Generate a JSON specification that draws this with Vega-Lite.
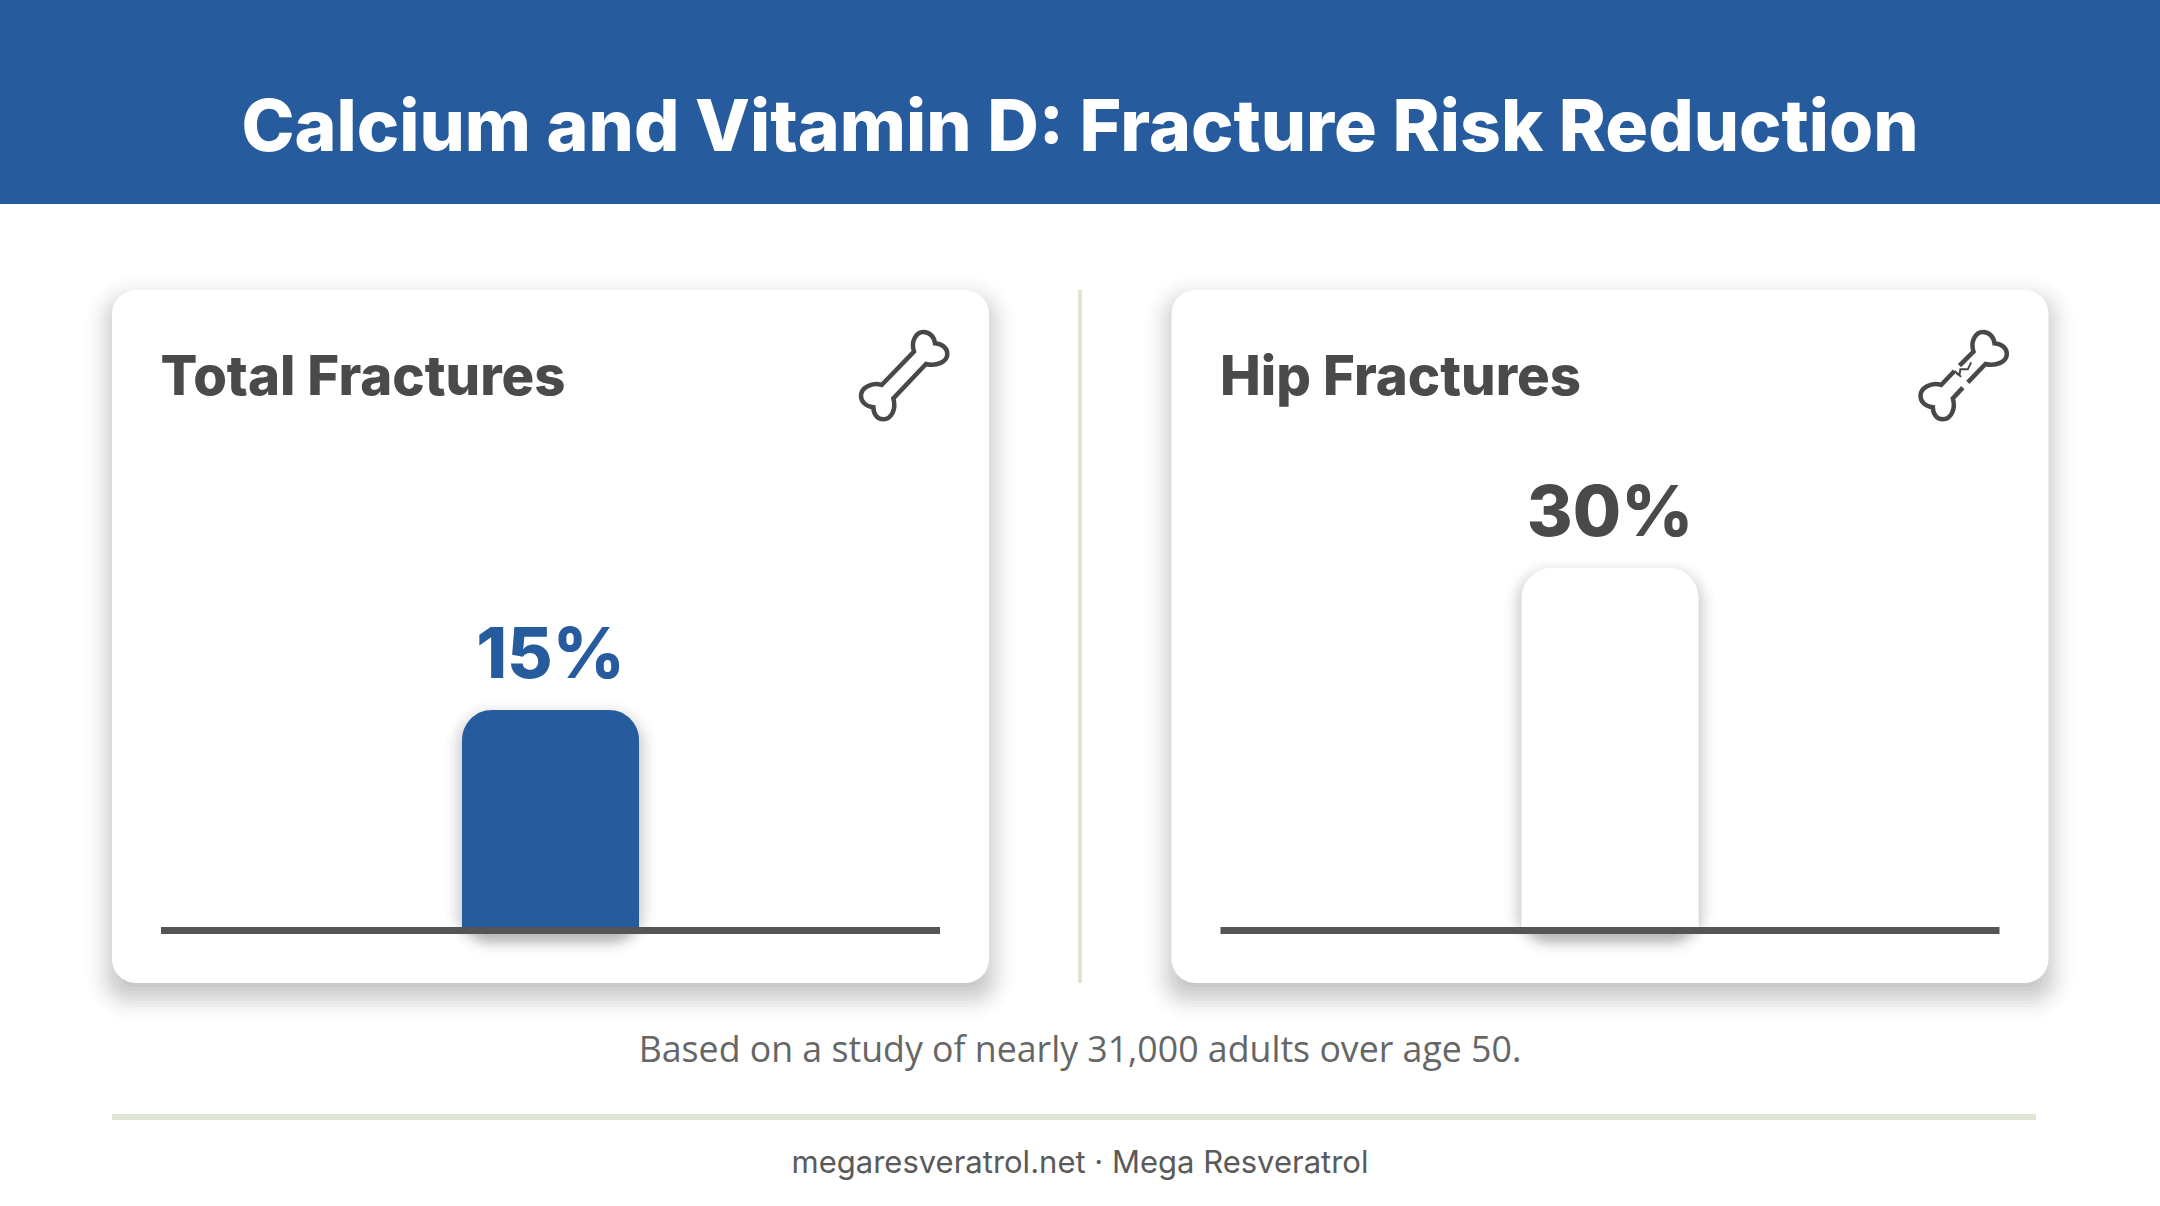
{
"$schema":"https://vega.github.io/schema/vega-lite/v6.json",
"width":2160,"height":1206,"padding":0,
"autosize":{"type":"fit","contains":"padding"},
"background":"#FFFFFF",
"config":{"view":{"stroke":null}},
"datasets":{"panels":[{"panel":"Total Fractures","value":15,"label":"15%"},{"panel":"Hip Fractures","value":30,"label":"30%"}]},
"data":{"name":"panels"},
"encoding":{
"x":{"field":"panel","type":"nominal","axis":null,"sort":null,"scale":{"type":"band","domain":["Total Fractures","Hip Fractures"],"range":[20.75,2139.75],"paddingInner":0,"paddingOuter":0}}
},
"resolve":{"scale":{"color":"independent"}},
"layer":[
{"mark":{"type":"bar","width":853,"cornerRadius":12,"color":"#000","opacity":0.026,"yOffset":24,"y2Offset":0},"encoding":{"y":{"datum":59.37,"type":"quantitative","axis":null,"scale":{"domain":[-37.39,90],"range":[1206,0],"nice":false,"zero":false}},"y2":{"datum":-13.83}}},
{"mark":{"type":"bar","width":861,"cornerRadius":14,"color":"#000","opacity":0.026,"yOffset":20,"y2Offset":4},"encoding":{"y":{"datum":59.37,"type":"quantitative"},"y2":{"datum":-13.83}}},
{"mark":{"type":"bar","width":869,"cornerRadius":17,"color":"#000","opacity":0.026,"yOffset":16,"y2Offset":8},"encoding":{"y":{"datum":59.37,"type":"quantitative"},"y2":{"datum":-13.83}}},
{"mark":{"type":"bar","width":877,"cornerRadius":20,"color":"#000","opacity":0.024,"yOffset":12,"y2Offset":12},"encoding":{"y":{"datum":59.37,"type":"quantitative"},"y2":{"datum":-13.83}}},
{"mark":{"type":"bar","width":883,"cornerRadius":23,"color":"#000","opacity":0.024,"yOffset":9,"y2Offset":15},"encoding":{"y":{"datum":59.37,"type":"quantitative"},"y2":{"datum":-13.83}}},
{"mark":{"type":"bar","width":889,"cornerRadius":26,"color":"#000","opacity":0.022,"yOffset":6,"y2Offset":18},"encoding":{"y":{"datum":59.37,"type":"quantitative"},"y2":{"datum":-13.83}}},
{"mark":{"type":"bar","width":895,"cornerRadius":29,"color":"#000","opacity":0.02,"yOffset":3,"y2Offset":21},"encoding":{"y":{"datum":59.37,"type":"quantitative"},"y2":{"datum":-13.83}}},
{"mark":{"type":"bar","width":901,"cornerRadius":32,"color":"#000","opacity":0.018,"yOffset":0,"y2Offset":24},"encoding":{"y":{"datum":59.37,"type":"quantitative"},"y2":{"datum":-13.83}}},
{"mark":{"type":"bar","width":907,"cornerRadius":35,"color":"#000","opacity":0.015,"yOffset":-3,"y2Offset":27},"encoding":{"y":{"datum":59.37,"type":"quantitative"},"y2":{"datum":-13.83}}},
{"mark":{"type":"bar","width":913,"cornerRadius":38,"color":"#000","opacity":0.012,"yOffset":-6,"y2Offset":30},"encoding":{"y":{"datum":59.37,"type":"quantitative"},"y2":{"datum":-13.83}}},
{"mark":{"type":"bar","width":921,"cornerRadius":42,"color":"#000","opacity":0.01,"yOffset":-10,"y2Offset":34},"encoding":{"y":{"datum":59.37,"type":"quantitative"},"y2":{"datum":-13.83}}},
{"mark":{"type":"bar","width":929,"cornerRadius":46,"color":"#000","opacity":0.008,"yOffset":-14,"y2Offset":38},"encoding":{"y":{"datum":59.37,"type":"quantitative"},"y2":{"datum":-13.83}}},
{"mark":{"type":"bar","width":877,"cornerRadius":24,"color":"#FFFFFF"},"encoding":{"y":{"datum":59.37,"type":"quantitative"},"y2":{"datum":-13.83}}},

{"mark":{"type":"bar","width":161,"cornerRadius":22,"color":"#000","opacity":0.04,"yOffset":16,"y2Offset":10},"encoding":{"y":{"field":"value","type":"quantitative"},"y2":{"datum":-7.92}}},
{"mark":{"type":"bar","width":167,"cornerRadius":24,"color":"#000","opacity":0.04,"yOffset":13,"y2Offset":12},"encoding":{"y":{"field":"value","type":"quantitative"},"y2":{"datum":-7.92}}},
{"mark":{"type":"bar","width":173,"cornerRadius":27,"color":"#000","opacity":0.04,"yOffset":10,"y2Offset":14},"encoding":{"y":{"field":"value","type":"quantitative"},"y2":{"datum":-7.92}}},
{"mark":{"type":"bar","width":179,"cornerRadius":30,"color":"#000","opacity":0.04,"yOffset":7,"y2Offset":16},"encoding":{"y":{"field":"value","type":"quantitative"},"y2":{"datum":-7.92}}},
{"mark":{"type":"bar","width":185,"cornerRadius":33,"color":"#000","opacity":0.035,"yOffset":4,"y2Offset":18},"encoding":{"y":{"field":"value","type":"quantitative"},"y2":{"datum":-7.92}}},
{"mark":{"type":"bar","width":191,"cornerRadius":36,"color":"#000","opacity":0.03,"yOffset":1,"y2Offset":20},"encoding":{"y":{"field":"value","type":"quantitative"},"y2":{"datum":-7.92}}},
{"mark":{"type":"bar","width":197,"cornerRadius":39,"color":"#000","opacity":0.025,"yOffset":-2,"y2Offset":22},"encoding":{"y":{"field":"value","type":"quantitative"},"y2":{"datum":-7.92}}},
{"mark":{"type":"bar","width":203,"cornerRadius":42,"color":"#000","opacity":0.018,"yOffset":-5,"y2Offset":25},"encoding":{"y":{"field":"value","type":"quantitative"},"y2":{"datum":-7.92}}},
{"mark":{"type":"bar","width":211,"cornerRadius":46,"color":"#000","opacity":0.012,"yOffset":-9,"y2Offset":29},"encoding":{"y":{"field":"value","type":"quantitative"},"y2":{"datum":-7.92}}},

{"mark":{"type":"bar","width":177,"cornerRadiusTopLeft":30,"cornerRadiusTopRight":30},"encoding":{"y":{"field":"value","type":"quantitative"},"y2":{"datum":-7.92},"color":{"field":"panel","type":"nominal","legend":null,"scale":{"domain":["Total Fractures","Hip Fractures"],"range":["#265C9E","#FFFFFF"]}}}},

{"mark":{"type":"bar","width":779,"color":"#555555"},"encoding":{"y":{"datum":-7.92,"type":"quantitative"},"y2":{"datum":-8.66}}},

{"mark":{"type":"text","font":"Inter","fontWeight":800,"fontSize":54.5,"align":"left","baseline":"alphabetic","dx":-390,"color":"#4A4A4A"},"encoding":{"y":{"datum":48.28,"type":"quantitative"},"text":{"field":"panel","type":"nominal"}}},

{"mark":{"type":"text","font":"Inter","fontWeight":800,"fontSize":70,"align":"center","baseline":"alphabetic","dy":-32},"encoding":{"y":{"field":"value","type":"quantitative"},"text":{"field":"label","type":"nominal"},"color":{"field":"panel","type":"nominal","legend":null,"scale":{"domain":["Total Fractures","Hip Fractures"],"range":["#265C9E","#4A4A4A"]}}}},

{"mark":{"type":"point","filled":false,"stroke":"#484848","strokeWidth":4.5,"size":8100,"opacity":1,"xOffset":353.5},"encoding":{"y":{"datum":50.39,"type":"quantitative"},"shape":{"field":"panel","type":"nominal","legend":null,"scale":{"domain":["Total Fractures","Hip Fractures"],"range":["M-0.496,0.222 L0.222,-0.519 C0.148,-0.741 0.267,-0.956 0.430,-0.956 C0.578,-0.956 0.674,-0.837 0.689,-0.704 C0.859,-0.689 0.963,-0.593 0.963,-0.467 C0.963,-0.296 0.726,-0.185 0.489,-0.244 L-0.237,0.519 C-0.163,0.778 -0.296,0.985 -0.459,0.985 C-0.593,0.985 -0.681,0.867 -0.681,0.719 C-0.844,0.704 -0.956,0.593 -0.956,0.459 C-0.956,0.296 -0.719,0.148 -0.496,0.222 Z","M-0.2,-0.089 L-0.496,0.222 C-0.719,0.148 -0.956,0.296 -0.956,0.459 C-0.956,0.593 -0.844,0.704 -0.681,0.719 C-0.681,0.867 -0.593,0.985 -0.459,0.985 C-0.296,0.985 -0.163,0.778 -0.237,0.519 L-0.015,0.281 M0.096,0.163 L0.489,-0.244 C0.726,-0.185 0.963,-0.296 0.963,-0.467 C0.963,-0.593 0.859,-0.689 0.689,-0.704 C0.674,-0.837 0.578,-0.956 0.430,-0.956 C0.267,-0.956 0.148,-0.741 0.222,-0.519 L-0.089,-0.207"]}}}},

{"transform":[{"filter":"datum.panel === 'Hip Fractures'"}],"mark":{"type":"point","filled":false,"stroke":"#484848","strokeWidth":2,"size":8100,"opacity":1,"xOffset":353.5,"shape":"M-0.2,-0.089 L-0.09,0 L-0.07,-0.126 L0.096,-0.126 L0.17,-0.28 M-0.16,-0.04 L-0.05,0.04"},"encoding":{"y":{"datum":50.39,"type":"quantitative"}}},

{"data":{"values":[{"note":"header"}]},"mark":{"type":"rect","x":0,"x2":{"expr":"width"},"color":"#265C9E"},"encoding":{"x":null,"y":{"datum":90,"type":"quantitative"},"y2":{"datum":68.45}}},
{"data":{"values":[{"text":"Calcium and Vitamin D: Fracture Risk Reduction"}]},"mark":{"type":"text","font":"Inter","fontWeight":800,"fontSize":71.4,"align":"center","baseline":"alphabetic","x":{"expr":"width/2"},"color":"#FFFFFF"},"encoding":{"x":null,"y":{"datum":74.0,"type":"quantitative"},"text":{"field":"text","type":"nominal"}}},
{"data":{"values":[{"note":"divider"}]},"mark":{"type":"rect","x":{"expr":"width/2-2"},"x2":{"expr":"width/2+2"},"color":"#DFE5D3"},"encoding":{"x":null,"y":{"datum":59.37,"type":"quantitative"},"y2":{"datum":-13.83}}},
{"data":{"values":[{"note":"rule"}]},"mark":{"type":"rect","x":112,"x2":2036,"color":"#DFE5D3"},"encoding":{"x":null,"y":{"datum":-27.67,"type":"quantitative"},"y2":{"datum":-28.31}}},
{"data":{"values":[{"text":"Based on a study of nearly 31,000 adults over age 50."}]},"mark":{"type":"text","font":"Open Sans","fontSize":35.7,"align":"center","baseline":"alphabetic","x":{"expr":"width/2"},"color":"#666666"},"encoding":{"x":null,"y":{"datum":-22.18,"type":"quantitative"},"text":{"field":"text","type":"nominal"}}},
{"data":{"values":[{"text":"megaresveratrol.net · Mega Resveratrol"}]},"mark":{"type":"text","font":"Inter","fontSize":31,"align":"center","baseline":"alphabetic","x":{"expr":"width/2"},"color":"#5A5A5A"},"encoding":{"x":null,"y":{"datum":-33.9,"type":"quantitative"},"text":{"field":"text","type":"nominal"}}}
]
}
